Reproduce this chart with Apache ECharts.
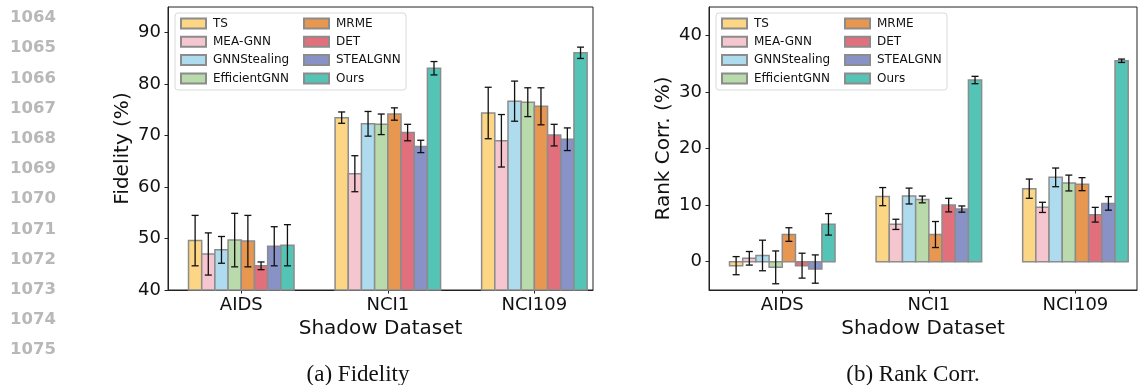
<!DOCTYPE html>
<html>
<head>
<meta charset="utf-8">
<script src="https://cdn.jsdelivr.net/npm/echarts@6/dist/echarts.min.js"></script>
<style>
  html, body { margin: 0; padding: 0; background: #ffffff; }
  #chart { width: 1147px; height: 385px; }
</style>
</head>
<body>
<div id="chart"></div>
<script>
const categories = ["AIDS", "NCI1", "NCI109"];
const methods = ["TS", "MEA-GNN", "GNNStealing", "EfficientGNN", "MRME", "DET", "STEALGNN", "Ours"];

// rows follow `methods`, columns follow `categories`
const fidelityMean = [
  [49.6, 73.5, 74.4],
  [47.0, 62.6, 69.0],
  [47.8, 72.3, 76.7],
  [49.7, 72.2, 76.5],
  [49.5, 74.2, 75.7],
  [44.7, 70.6, 70.1],
  [48.5, 67.9, 69.3],
  [48.7, 83.1, 86.1],
];
const fidelityStd = [
  [4.9, 1.1, 5.0],
  [4.1, 3.5, 5.1],
  [2.6, 2.4, 3.9],
  [5.2, 2.0, 2.8],
  [5.0, 1.2, 3.6],
  [0.75, 1.6, 2.1],
  [3.8, 1.2, 2.2],
  [4.0, 1.3, 1.1],
];
const rankMean = [
  [-0.7, 11.5, 12.9],
  [0.6, 6.6, 9.6],
  [1.1, 11.6, 14.9],
  [-1.0, 11.0, 13.9],
  [4.8, 4.8, 13.7],
  [-0.7, 10.0, 8.3],
  [-1.3, 9.3, 10.3],
  [6.6, 32.1, 35.5],
];
const rankStd = [
  [1.6, 1.6, 1.7],
  [1.2, 0.9, 0.9],
  [2.7, 1.4, 1.65],
  [2.9, 0.6, 1.4],
  [1.2, 2.3, 1.15],
  [2.2, 1.2, 1.3],
  [2.5, 0.55, 1.2],
  [1.9, 0.65, 0.3],
];
const fidelityTicks = [40, 50, 60, 70, 80, 90];
const rankTicks = [0, 10, 20, 30, 40];
const lineNumbers = [1064, 1065, 1066, 1067, 1068, 1069, 1070, 1071, 1072, 1073, 1074, 1075];

const colors = ["#fcd685", "#f6c6d0", "#aedcee", "#b9dbac", "#e89750", "#e26f7c", "#8892c6", "#54c4b7"];
const BAR_W = 0.09;
const FONT = "DejaVu Sans";

const chart = echarts.init(document.getElementById("chart"));

function makeSeries(axisIdx, means, stds, base) {
  return methods.map((name, i) => ({
    type: "custom",
    name: name,
    xAxisIndex: axisIdx,
    yAxisIndex: axisIdx,
    itemStyle: { color: colors[i], borderColor: "#8c8c8c", borderWidth: 1.5 },
    encode: { x: 0, y: 1 },
    data: categories.map((c, g) => [g, means[i][g], stds[i][g]]),
    renderItem: (params, api) => {
      const x = api.value(0) + (i - 3.5) * BAR_W;
      const v = api.value(1);
      const e = api.value(2);
      const p0 = api.coord([x - BAR_W / 2, base]);
      const p1 = api.coord([x + BAR_W / 2, v]);
      const top = api.coord([x, v + e]);
      const bot = api.coord([x, v - e]);
      const cap = 3.5;
      const line = { stroke: "#111", lineWidth: 1.3 };
      return {
        type: "group",
        children: [
          {
            type: "rect",
            shape: {
              x: p0[0], y: Math.min(p0[1], p1[1]),
              width: p1[0] - p0[0], height: Math.abs(p1[1] - p0[1]),
            },
            style: { fill: colors[i], stroke: "#8c8c8c", lineWidth: 1.5 },
          },
          { type: "line", shape: { x1: top[0], y1: top[1], x2: bot[0], y2: bot[1] }, style: line, z2: 5 },
          { type: "line", shape: { x1: top[0] - cap, y1: top[1], x2: top[0] + cap, y2: top[1] }, style: line, z2: 5 },
          { type: "line", shape: { x1: bot[0] - cap, y1: bot[1], x2: bot[0] + cap, y2: bot[1] }, style: line, z2: 5 },
        ],
      };
    },
  }));
}

function xAxisFor(idx, max) {
  return {
    type: "value",
    gridIndex: idx,
    min: -0.5,
    max: max,
    name: "Shadow Dataset",
    nameLocation: "middle",
    nameGap: 29,
    nameTextStyle: { fontFamily: FONT, fontSize: 20, color: "#111" },
    axisLine: { show: true, onZero: false, lineStyle: { color: "#222", width: 1 } },
    axisTick: { show: true, length: 3.5, customValues: [0, 1, 2], lineStyle: { color: "#222" } },
    axisLabel: {
      customValues: [0, 1, 2],
      margin: 6,
      fontFamily: FONT, fontSize: 18, color: "#111",
      formatter: (v) => categories[Math.round(v)],
    },
    splitLine: { show: false },
  };
}

function yAxisFor(idx, min, max, ticks, name) {
  return {
    type: "value",
    gridIndex: idx,
    min: min,
    max: max,
    name: name,
    nameLocation: "middle",
    nameGap: 35,
    nameTextStyle: { fontFamily: FONT, fontSize: 20, color: "#111" },
    axisLine: { show: true, onZero: false, lineStyle: { color: "#222", width: 1 } },
    axisTick: { show: true, length: 3.5, customValues: ticks, lineStyle: { color: "#222" } },
    axisLabel: { customValues: ticks, margin: 7, fontFamily: FONT, fontSize: 18, color: "#111" },
    splitLine: { show: false },
  };
}

function legendFor(names, left) {
  return {
    data: names,
    orient: "vertical",
    left: left,
    top: 17.5,
    padding: 0,
    itemGap: 6.3,
    itemWidth: 25,
    itemHeight: 10,
    icon: "rect",
    textStyle: { fontFamily: FONT, fontSize: 12, color: "#111", padding: [0, 0, 0, 2] },
  };
}

const graphics = [
  {
    type: "rect", z: 1,
    shape: { x: 175, y: 13, width: 231, height: 77, r: 3 },
    style: { fill: "#fff", stroke: "#d9d9d9", lineWidth: 1 },
  },
  {
    type: "rect", z: 1,
    shape: { x: 716, y: 13, width: 231, height: 77, r: 3 },
    style: { fill: "#fff", stroke: "#d9d9d9", lineWidth: 1 },
  },
  {
    type: "text", x: 358, y: 375,
    style: { text: "(a) Fidelity", fontFamily: "Liberation Serif", fontSize: 23, fill: "#111", align: "center", verticalAlign: "middle" },
  },
  {
    type: "text", x: 913, y: 375,
    style: { text: "(b) Rank Corr.", fontFamily: "Liberation Serif", fontSize: 23, fill: "#111", align: "center", verticalAlign: "middle" },
  },
];
lineNumbers.forEach((n, k) => {
  graphics.push({
    type: "text", x: 10, y: 18 + k * 30.2,
    style: { text: String(n), fontFamily: "DejaVu Sans", fontWeight: "bold", fontSize: 16.5, fill: "#b8b8b8", verticalAlign: "middle" },
  });
});

const option = {
  backgroundColor: "#ffffff",
  animation: false,
  grid: [
    { left: 168, top: 7, width: 425, height: 283, show: true, borderColor: "#222", borderWidth: 1, backgroundColor: "transparent" },
    { left: 709, top: 7, width: 428, height: 283, show: true, borderColor: "#222", borderWidth: 1, backgroundColor: "transparent" },
  ],
  xAxis: [xAxisFor(0, 2.4), xAxisFor(1, 2.42)],
  yAxis: [
    yAxisFor(0, 40, 95, fidelityTicks, "Fidelity (%)"),
    yAxisFor(1, -5, 45, rankTicks, "Rank Corr. (%)"),
  ],
  legend: [
    legendFor(methods.slice(0, 4), 180),
    legendFor(methods.slice(4), 303),
    legendFor(methods.slice(0, 4), 721),
    legendFor(methods.slice(4), 844),
  ],
  graphic: graphics,
  series: [
    ...makeSeries(0, fidelityMean, fidelityStd, 40),
    ...makeSeries(1, rankMean, rankStd, 0),
  ],
};

chart.setOption(option);

window.addEventListener("resize", () => {
  chart.resize();
});
</script>
</body>
</html>
